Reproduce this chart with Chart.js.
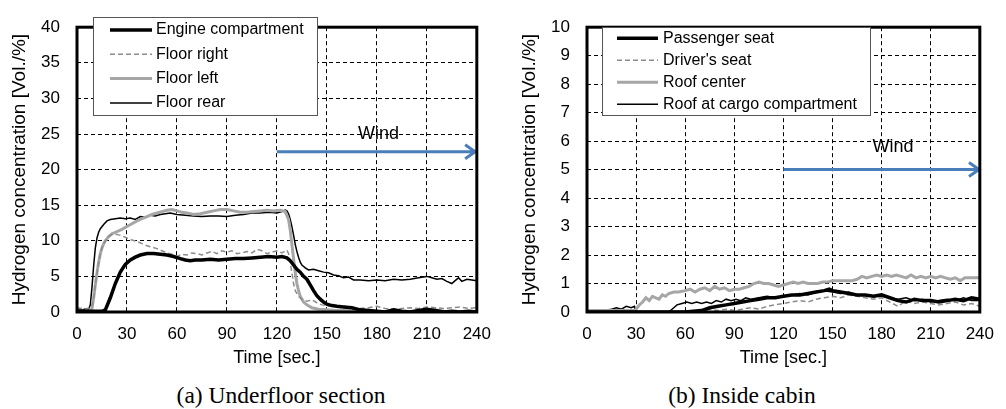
<!DOCTYPE html>
<html>
<head>
<meta charset="utf-8">
<script src="https://cdn.jsdelivr.net/npm/chart.js@4.4.1/dist/chart.umd.min.js"></script>
<style>
  body { margin: 0; background: #fff; width: 1006px; height: 409px; position: relative; overflow: hidden; }
  canvas { position: absolute; top: 0; }
  #chartA { left: 0; }
  #chartB { left: 503px; }
  .caption { position: absolute; top: 382px; font-family: "Liberation Serif", "Times New Roman", serif; font-size: 23.5px; line-height: 26px; color: #000; transform: translateX(-50%); white-space: nowrap; }
</style>
</head>
<body>
<canvas id="chartA" width="503" height="370"></canvas>
<canvas id="chartB" width="503" height="370"></canvas>
<div class="caption" style="left:281px">(a) Underfloor section</div>
<div class="caption" style="left:742px">(b) Inside cabin</div>
<script>
// 시간축 (초)
const timeMin = 0, timeMax = 240, timeStep = 30;

// (a) Underfloor section
const engineT = [0, 5, 10, 15, 17, 20, 23, 26, 29, 32, 35, 38, 42, 46, 50, 54, 58, 62, 65, 68, 71, 75, 80, 85, 90, 95, 100, 105, 110, 115, 120, 123, 126, 128, 130, 132, 134, 136, 138, 140, 142, 144, 146, 148, 150, 153, 156, 160, 165, 170, 175, 180, 185, 190, 195, 200, 205, 210, 215, 220, 225, 230, 235, 240];
const engineV = [0.1, 0.1, 0.1, 0.1, 0.3, 2.0, 4.0, 5.6, 6.7, 7.3, 7.7, 8.0, 8.2, 8.2, 8.1, 8.0, 7.8, 7.5, 7.3, 7.2, 7.3, 7.3, 7.4, 7.3, 7.4, 7.5, 7.5, 7.6, 7.7, 7.8, 7.7, 7.8, 7.6, 7.2, 6.6, 6.0, 5.6, 5.0, 4.6, 3.8, 3.0, 2.3, 1.8, 1.4, 1.1, 0.9, 0.8, 0.7, 0.6, 0.3, 0.2, 0.1, 0.0, 0.3, 0.1, 0.0, 0.2, 0.4, 0.2, 0.0, 0.1, 0.0, 0.1, 0.0];

const floorRightT = [0, 5, 8, 9, 10, 11, 12, 13, 14, 15, 16, 17, 19, 21, 24, 27, 30, 33, 36, 39, 42, 45, 48, 51, 54, 57, 60, 63, 66, 69, 72, 75, 78, 81, 84, 87, 90, 93, 96, 99, 102, 105, 108, 111, 114, 117, 120, 123, 126, 127, 128, 129, 130, 131, 133, 135, 138, 141, 144, 147, 150, 155, 160, 165, 170, 175, 180, 185, 190, 195, 200, 205, 210, 215, 220, 225, 230, 235, 240];
const floorRightV = [0.6, 0.4, 0.6, 0.8, 2.0, 3.8, 5.5, 7.0, 8.2, 9.0, 9.6, 10.0, 10.6, 10.9, 10.9, 10.7, 10.4, 10.1, 9.9, 9.6, 9.3, 9.1, 8.9, 8.6, 8.3, 8.1, 7.8, 8.1, 8.0, 8.3, 8.2, 8.0, 8.3, 8.5, 8.2, 8.6, 8.4, 8.6, 8.2, 8.3, 8.5, 8.3, 8.8, 8.6, 8.2, 8.4, 8.6, 8.3, 8.7, 8.2, 7.0, 5.5, 4.0, 3.0, 2.2, 1.8, 1.5, 1.7, 1.3, 1.0, 0.9, 0.8, 0.8, 0.6, 0.5, 0.6, 0.8, 0.5, 0.4, 0.5, 0.6, 0.5, 0.7, 0.6, 0.5, 0.6, 0.7, 0.5, 0.6];

const floorLeftT = [0, 5, 8, 9, 10, 11, 12, 13, 14, 15, 16, 17, 19, 21, 23, 25, 27, 30, 33, 36, 39, 42, 45, 48, 51, 54, 57, 60, 63, 66, 70, 74, 78, 82, 86, 90, 94, 98, 102, 106, 110, 114, 118, 122, 125, 127, 128, 129, 130, 131, 132, 133, 134, 136, 138, 141, 145, 150, 155, 160, 170, 180, 190, 200, 210, 215, 220, 230, 240];
const floorLeftV = [0.1, 0.1, 0.1, 0.5, 2.0, 3.8, 5.5, 7.0, 8.2, 9.0, 9.6, 10.0, 10.6, 11.0, 11.2, 11.4, 11.6, 12.0, 12.4, 12.8, 13.1, 13.4, 13.7, 13.9, 14.1, 14.3, 14.4, 14.2, 14.0, 13.9, 13.7, 13.8, 14.0, 14.2, 14.4, 14.4, 14.2, 14.0, 14.0, 14.1, 14.2, 14.3, 14.2, 14.3, 14.1, 13.0, 11.5, 9.5, 7.5, 5.5, 4.0, 3.0, 2.2, 1.4, 1.0, 0.6, 0.4, 0.3, 0.2, 0.2, 0.1, 0.0, 0.1, 0.0, 0.2, 0.3, 0.1, 0.0, 0.0];

const floorRearT = [0, 3, 6, 7, 8, 9, 10, 11, 12, 13, 14, 16, 18, 20, 23, 26, 29, 32, 35, 38, 41, 44, 47, 50, 53, 56, 60, 65, 70, 75, 80, 85, 90, 95, 100, 105, 110, 115, 120, 123, 125, 126, 127, 128, 129, 130, 131, 132, 133, 134, 135, 137, 139, 142, 145, 148, 151, 154, 157, 160, 163, 166, 170, 175, 180, 185, 190, 195, 200, 205, 210, 213, 216, 219, 222, 225, 227, 229, 231, 234, 237, 240];
const floorRearV = [0.5, 0.3, 0.5, 0.4, 1.0, 3.5, 6.5, 9.0, 10.4, 11.2, 11.7, 12.3, 12.8, 13.0, 13.1, 13.2, 13.1, 13.2, 13.0, 13.4, 13.3, 13.6, 13.5, 13.7, 13.8, 13.9, 13.7, 13.6, 13.5, 13.4, 13.5, 13.5, 13.4, 13.6, 13.7, 13.9, 13.9, 14.0, 13.9, 14.1, 14.3, 14.2, 13.8, 13.0, 12.0, 10.8, 9.5, 8.5, 7.7, 7.0, 6.6, 6.2, 5.9, 6.0, 5.8, 5.6, 5.5, 5.2, 5.1, 4.8, 4.9, 4.5, 4.5, 4.4, 4.5, 4.4, 4.6, 4.5, 4.6, 4.8, 5.0, 4.8, 4.6, 4.7, 4.3, 4.0, 4.4, 4.8, 4.3, 4.6, 4.5, 4.4];

// (b) Inside cabin
const passengerT = [0, 30, 60, 70, 75, 80, 85, 90, 95, 100, 105, 110, 115, 120, 125, 130, 135, 140, 145, 148, 150, 155, 160, 165, 170, 175, 180, 185, 190, 195, 200, 205, 210, 215, 220, 225, 230, 235, 240];
const passengerV = [0.0, 0.0, 0.0, 0.05, 0.15, 0.2, 0.25, 0.3, 0.35, 0.4, 0.45, 0.5, 0.5, 0.55, 0.6, 0.6, 0.65, 0.7, 0.75, 0.8, 0.75, 0.7, 0.65, 0.6, 0.6, 0.55, 0.6, 0.5, 0.4, 0.35, 0.45, 0.4, 0.4, 0.35, 0.4, 0.45, 0.4, 0.5, 0.45];

const driverT = [0, 60, 65, 70, 75, 80, 85, 90, 95, 100, 105, 110, 115, 120, 125, 130, 135, 140, 145, 150, 155, 160, 165, 170, 175, 180, 185, 190, 195, 200, 205, 210, 215, 220, 225, 230, 235, 240];
const driverV = [0.0, 0.0, 0.05, 0.0, 0.1, 0.05, 0.1, 0.05, 0.1, 0.15, 0.1, 0.2, 0.25, 0.3, 0.35, 0.4, 0.35, 0.45, 0.5, 0.55, 0.5, 0.6, 0.55, 0.5, 0.45, 0.5, 0.35, 0.2, 0.4, 0.3, 0.35, 0.3, 0.25, 0.3, 0.35, 0.25, 0.3, 0.2];

const roofCenterT = [0, 10, 20, 29, 30, 32, 34, 36, 38, 40, 42, 44, 46, 48, 50, 53, 56, 60, 63, 66, 69, 72, 75, 78, 81, 84, 87, 90, 93, 96, 99, 102, 105, 108, 111, 114, 117, 120, 123, 126, 129, 132, 135, 138, 141, 144, 147, 150, 154, 158, 162, 165, 168, 171, 174, 177, 180, 183, 186, 189, 192, 195, 198, 201, 204, 207, 210, 213, 216, 219, 222, 225, 228, 231, 234, 237, 240];
const roofCenterV = [0.05, 0.05, 0.05, 0.05, 0.1, 0.25, 0.35, 0.5, 0.4, 0.55, 0.5, 0.45, 0.6, 0.55, 0.65, 0.7, 0.7, 0.75, 0.8, 0.7, 0.8, 0.85, 0.75, 0.9, 0.8, 0.85, 0.75, 0.8, 0.8, 0.85, 0.9, 1.0, 1.05, 1.0, 1.0, 0.95, 0.9, 0.95, 1.0, 1.05, 1.0, 1.05, 1.0, 1.0, 1.0, 1.05, 1.05, 1.1, 1.1, 1.1, 1.1, 1.15, 1.25, 1.2, 1.25, 1.3, 1.25, 1.3, 1.25, 1.3, 1.25, 1.2, 1.3, 1.2, 1.25, 1.2, 1.25, 1.2, 1.25, 1.2, 1.15, 1.2, 1.1, 1.2, 1.2, 1.2, 1.2];

const roofCargoT = [0, 10, 15, 18, 21, 24, 27, 29, 30, 40, 50, 53, 55, 58, 61, 64, 67, 70, 73, 76, 79, 82, 85, 88, 91, 94, 97, 100, 105, 110, 115, 120, 125, 130, 135, 140, 145, 150, 155, 160, 165, 170, 175, 180, 185, 190, 195, 200, 205, 210, 215, 220, 225, 230, 235, 240];
const roofCargoV = [0.05, 0.05, 0.1, 0.15, 0.1, 0.2, 0.15, 0.2, 0.0, 0.0, 0.0, 0.15, 0.25, 0.3, 0.35, 0.3, 0.35, 0.3, 0.35, 0.3, 0.4, 0.35, 0.45, 0.4, 0.45, 0.4, 0.5, 0.45, 0.5, 0.55, 0.5, 0.55, 0.6, 0.65, 0.6, 0.7, 0.75, 0.7, 0.65, 0.7, 0.6, 0.6, 0.55, 0.55, 0.5, 0.45, 0.5, 0.4, 0.45, 0.35, 0.4, 0.45, 0.4, 0.5, 0.4, 0.4];

// 바람 화살표 (시작/끝 시간, 높이)
const windA = { from: 120, to: 239, level: 22.5, labelT: 181, labelV: 25 };
const windB = { from: 120, to: 239.5, level: 5, labelT: 187, labelV: 5.8 };

Chart.defaults.font.family = '"Liberation Sans", Arial, sans-serif';
Chart.defaults.color = '#000';

function toPoints(ts, vs) {
  return ts.map((t, i) => ({ x: t, y: vs[i] }));
}

function series(label, ts, vs, color, width, dash) {
  return {
    label: label,
    data: toPoints(ts, vs),
    borderColor: color,
    borderWidth: width,
    borderDash: dash || [],
    pointRadius: 0,
    tension: 0,
    fill: false
  };
}

// 테두리, 범례, 바람 화살표를 그리는 플러그인
const decorPlugin = {
  id: 'decor',
  afterDatasetsDraw(chart, args, opts) {
    const { ctx, chartArea: a, scales: { x, y } } = chart;
    ctx.save();

    // 바람 화살표
    const w = opts.wind;
    const x1 = x.getPixelForValue(w.from);
    const x2 = x.getPixelForValue(w.to);
    const wy = y.getPixelForValue(w.level);
    ctx.strokeStyle = '#4a7ebb';
    ctx.lineWidth = 3;
    ctx.setLineDash([]);
    ctx.beginPath();
    ctx.moveTo(x1, wy);
    ctx.lineTo(x2, wy);
    ctx.moveTo(x2 - 10, wy - 7);
    ctx.lineTo(x2, wy);
    ctx.lineTo(x2 - 10, wy + 7);
    ctx.stroke();
    ctx.fillStyle = '#000';
    ctx.font = '18px "Liberation Sans", Arial, sans-serif';
    ctx.textAlign = 'center';
    ctx.textBaseline = 'middle';
    ctx.fillText('Wind', x.getPixelForValue(w.labelT), y.getPixelForValue(w.labelV));

    // 플롯 테두리
    ctx.strokeStyle = '#000';
    ctx.lineWidth = 3;
    ctx.strokeRect(a.left, a.top, a.right - a.left, a.bottom - a.top);

    // 범례
    const lg = opts.legend;
    ctx.fillStyle = '#fff';
    ctx.fillRect(lg.x, lg.y, lg.w, lg.h);
    ctx.strokeStyle = '#555';
    ctx.lineWidth = 1;
    ctx.strokeRect(lg.x + 0.5, lg.y + 0.5, lg.w, lg.h);
    ctx.font = '16px "Liberation Sans", Arial, sans-serif';
    ctx.textAlign = 'left';
    chart.data.datasets.forEach((ds, i) => {
      const ly = lg.firstY + i * lg.gap;
      ctx.strokeStyle = ds.borderColor;
      ctx.lineWidth = ds.borderWidth;
      ctx.setLineDash(ds.borderDash);
      ctx.beginPath();
      ctx.moveTo(lg.lineX1, ly);
      ctx.lineTo(lg.lineX2, ly);
      ctx.stroke();
      ctx.setLineDash([]);
      ctx.fillStyle = '#000';
      ctx.fillText(ds.label, lg.textX, ly);
    });
    ctx.restore();
  }
};

function makeChart(id, datasets, yMax, yStep, yAxisW, yTitlePad, padRight, wind, legend) {
  return new Chart(document.getElementById(id), {
    type: 'line',
    data: { datasets: datasets },
    plugins: [decorPlugin],
    options: {
      responsive: false,
      animation: false,
      layout: { padding: { top: 13, right: padRight, left: 0, bottom: 0 } },
      plugins: {
        legend: { display: false },
        tooltip: { enabled: false },
        decor: { wind: wind, legend: legend }
      },
      scales: {
        x: {
          type: 'linear',
          min: timeMin,
          max: timeMax,
          ticks: { stepSize: timeStep, padding: 12, font: { size: 17 }, color: '#000', maxRotation: 0 },
          grid: { color: '#000', lineWidth: 1, drawTicks: false },
          border: { display: false, dash: [4, 3] },
          title: { display: true, text: 'Time [sec.]', font: { size: 18 }, color: '#000', padding: { top: 0, bottom: 1 } },
          afterFit: s => { s.height = 58; }
        },
        y: {
          min: 0,
          max: yMax,
          ticks: { stepSize: yStep, padding: 17, font: { size: 17 }, color: '#000' },
          grid: { color: '#000', lineWidth: 1, drawTicks: false },
          border: { display: false, dash: [4, 3] },
          title: { display: true, text: 'Hydrogen concentration [Vol./%]', font: { size: 19 }, color: '#000', padding: { top: yTitlePad, bottom: 0 } },
          afterFit: s => { s.width = yAxisW; }
        }
      }
    }
  });
}

makeChart('chartA', [
  series('Engine compartment', engineT, engineV, '#000', 3.5),
  series('Floor right', floorRightT, floorRightV, '#8c8c8c', 1.5, [5, 3]),
  series('Floor left', floorLeftT, floorLeftV, '#a6a6a6', 3),
  series('Floor rear', floorRearT, floorRearV, '#000', 1.5)
], 40, 5, 77, 8, 23, windA,
  { x: 93, y: 17, w: 224, h: 98, firstY: 30, gap: 24.3, lineX1: 110, lineX2: 152, textX: 156 });

makeChart('chartB', [
  series('Passenger seat', passengerT, passengerV, '#000', 3.5),
  series("Driver's seat", driverT, driverV, '#8c8c8c', 1.5, [5, 3]),
  series('Roof center', roofCenterT, roofCenterV, '#a6a6a6', 3),
  series('Roof at cargo compartment', roofCargoT, roofCargoV, '#000', 1.5)
], 10, 1, 84, 15, 14, windB,
  { x: 99, y: 27, w: 268, h: 88, firstY: 38.3, gap: 22, lineX1: 114, lineX2: 155, textX: 160 });
</script>
</body>
</html>
